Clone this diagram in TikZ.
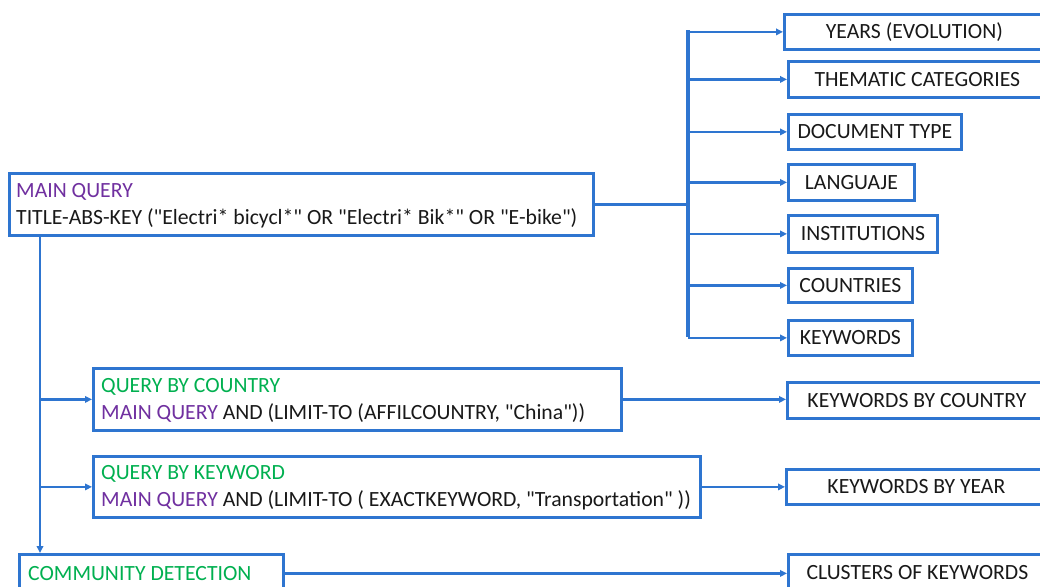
\documentclass[tikz,border=0pt]{standalone}
\usepackage{fontspec}
\setmainfont{Carlito}[Ligatures=TeXOff]
\usetikzlibrary{arrows.meta}
\definecolor{lblue}{RGB}{46,117,208}
\definecolor{mqpurple}{RGB}{112,48,160}
\definecolor{qgreen}{RGB}{0,176,80}
\definecolor{tdark}{RGB}{25,25,25}
\tikzset{
  box/.style={draw=lblue, line width=2.8pt, fill=white, inner sep=0pt, anchor=north west,
    text=tdark, font=\fontsize{21.7}{27}\selectfont},
  cbox/.style={box, align=center},
  ebox/.style={box},
  ltext/.style={anchor=west, inner sep=0pt, align=left, text=tdark, font=\fontsize{21.7}{27}\selectfont},
  conn/.style={draw=lblue, line width=2.4pt},
  arr/.style={conn, -{Triangle[length=7pt,width=6.5pt]}},
}
\begin{document}
\begin{tikzpicture}[x=1pt,y=-1pt]
\useasboundingbox (0,0) rectangle (1040,586);
% main query
\node[ebox, minimum width=584pt, minimum height=62pt] (main) at (8,172) {};
\node[ltext] (main-t) at ([xshift=8pt,yshift=-1pt]main.west)
  {\textcolor{mqpurple}{MAIN QUERY}\\TITLE-ABS-KEY ("Electri* bicycl*" OR "Electri* Bik*" OR "E-bike")};
% right column
\node[cbox, minimum width=260pt, minimum height=35pt] (years) at (783,13) {YEARS (EVOLUTION)};
\node[cbox, minimum width=258pt, minimum height=36pt] (them) at (787,60) {THEMATIC CATEGORIES};
\node[cbox, minimum width=173pt, minimum height=35pt] (doc) at (787,113) {DOCUMENT TYPE};
\node[cbox, minimum width=126pt, minimum height=36pt] (lang) at (787,163) {LANGUAJE};
\node[cbox, minimum width=149pt, minimum height=37pt] (inst) at (787,214) {INSTITUTIONS};
\node[cbox, minimum width=124pt, minimum height=34pt] (ctry) at (787,267) {COUNTRIES};
\node[cbox, minimum width=124pt, minimum height=35pt] (kw) at (787,319) {KEYWORDS};
\node[cbox, minimum width=259pt, minimum height=36pt] (kbc) at (786,381) {KEYWORDS BY COUNTRY};
\node[cbox, minimum width=260pt, minimum height=35pt] (kby) at (785,468) {KEYWORDS BY YEAR};
\node[cbox, minimum width=258pt, minimum height=37pt] (clu) at (787,553) {CLUSTERS OF KEYWORDS};
% queries
\node[ebox, minimum width=528pt, minimum height=62pt] (qc) at (92,367) {};
\node[ltext] (qc-t) at ([xshift=9pt,yshift=-1pt]qc.west)
  {\textcolor{qgreen}{QUERY BY COUNTRY}\\\textcolor{mqpurple}{MAIN QUERY} AND (LIMIT-TO (AFFILCOUNTRY, "China"))};
\node[ebox, minimum width=607pt, minimum height=61pt] (qk) at (92,455) {};
\node[ltext] (qk-t) at ([xshift=9pt,yshift=-1pt]qk.west)
  {\textcolor{qgreen}{QUERY BY KEYWORD}\\\textcolor{mqpurple}{MAIN QUERY} AND (LIMIT-TO ( EXACTKEYWORD, "Transportation" ))};
\node[ebox, minimum width=264pt, minimum height=38pt] (comm) at (18,553) {};
\node[ltext] (comm-t) at ([xshift=10pt]comm.west) {\textcolor{qgreen}{COMMUNITY DETECTION}};
% connectors
\coordinate (bt) at (688,30.5);
\coordinate (bb) at (688,336.5);
\coordinate (lt) at (40,234);
\draw[conn, line width=3.2pt] (main.east) -- (main.east -| bt);
\draw[conn, line width=3.2pt] (bt) -- (bb);
\foreach \n in {years,them,doc,lang,inst,ctry,kw}{
  \draw[arr] (bt |- \n.west) -- (\n.west);
}
\draw[arr] (lt) -- (lt |- comm.north);
\draw[arr] (lt |- qc.west) -- (qc.west);
\draw[arr] (lt |- qk.west) -- (qk.west);
\draw[arr] (qc.east) -- (qc.east -| kbc.west);
\draw[arr] (qk.east) -- (qk.east -| kby.west);
\draw[arr] (comm.east) -- (comm.east -| clu.west);
\end{tikzpicture}
\end{document}
